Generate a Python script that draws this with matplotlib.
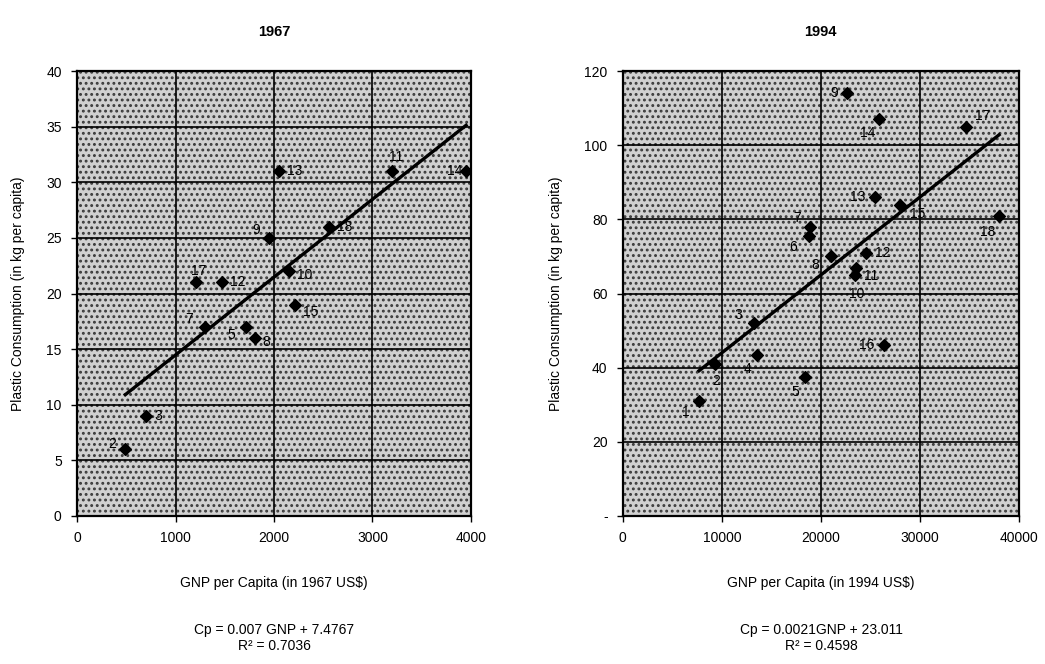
import numpy as np
import matplotlib.pyplot as plt
from matplotlib.patches import Rectangle

plt.rcParams['font.family'] = ['Liberation Sans', 'DejaVu Sans']
plt.rcParams['hatch.linewidth'] = 1.3

# 1967 data: country number, GNP per capita, plastic consumption
ids_67 = ['2', '3', '7', '5', '8', '17', '12', '10', '15', '9', '18', '13', '11', '14']
gnp_67 = [490, 700, 1300, 1720, 1810, 1210, 1470, 2150, 2210, 1950, 2560, 2050, 3200, 3950]
cp_67 = [6, 9, 17, 17, 16, 21, 21, 22, 19, 25, 26, 31, 31, 31]
slope_67, icpt_67 = 0.007, 7.4767

# 1994 data
ids_94 = ['1', '2', '3', '4', '5', '16', '12', '8', '10', '11', '7', '6',
          '13', '15', '18', '9', '14', '17']
gnp_94 = [7700, 9300, 13200, 13600, 18400, 26400, 24600, 21000, 23400, 23500,
          18900, 18800, 25500, 28000, 38000, 22600, 25900, 34700]
cp_94 = [31, 41, 52, 43.5, 37.5, 46, 71, 70, 65, 67, 78, 75.5,
         86, 84, 81, 114, 107, 105]
slope_94, icpt_94 = 0.0021, 23.011

# label offsets (points) for the number next to each diamond
off_67 = {'2': (-12, 4), '3': (6, 0), '7': (-14, 6), '5': (-14, -6), '8': (5, -3),
          '17': (-4, 8), '12': (6, 0), '10': (6, -3), '15': (6, -5), '9': (-12, 6),
          '18': (6, 0), '13': (6, 0), '11': (-2, 10), '14': (-14, 0)}
off_94 = {'1': (-12, -8), '2': (-2, -12), '3': (-14, 6), '4': (-10, -10),
          '5': (-10, -11), '16': (-18, 0), '12': (6, 0), '8': (-14, -6),
          '10': (-4, -14), '11': (6, -6), '7': (-12, 6), '6': (-14, -8),
          '13': (-18, 0), '15': (7, -7), '18': (-14, -12), '9': (-12, 0),
          '14': (-14, -10), '17': (6, 8)}

fig = plt.figure(figsize=(10.45, 6.64), dpi=100)
ax1 = fig.add_axes([0.0737, 0.2229, 0.377, 0.670])
ax2 = fig.add_axes([0.596, 0.2229, 0.379, 0.670])


def style(ax):
    ax.set_facecolor('#d0d0d0')
    # stippled plot area
    ax.add_patch(Rectangle((0, 0), 1, 1, transform=ax.transAxes, facecolor='none',
                           edgecolor='#3a3a3a', hatch='...', linewidth=0, zorder=0.5))
    ax.set_axisbelow(True)
    ax.grid(True, color='black', linewidth=1.2, zorder=1)
    for s in ax.spines.values():
        s.set_linewidth(1.6)
        s.set_color('black')
    ax.tick_params(direction='out', length=4, width=1, labelsize=10, pad=7)


def panel(ax, ids, gnp, cp, slope, icpt, offs):
    style(ax)
    xs = np.array([min(gnp), max(gnp)])
    ax.plot(xs, slope * xs + icpt, color='black', linewidth=2.4, zorder=3)
    ax.scatter(gnp, cp, marker='D', s=36, color='black', zorder=4)
    for i, g, c in zip(ids, gnp, cp):
        dx, dy = offs[i]
        ax.annotate(i, (g, c), xytext=(dx, dy), textcoords='offset points',
                    fontsize=10, ha='left', va='center', zorder=5)


panel(ax1, ids_67, gnp_67, cp_67, slope_67, icpt_67, off_67)
ax1.set_xlim(0, 4000)
ax1.set_ylim(0, 40)
ax1.set_xticks(range(0, 4001, 1000))
ax1.set_yticks(range(0, 41, 5))
ax1.set_title('1967', fontsize=10.5, fontweight='bold', pad=25)
ax1.set_xlabel('GNP per Capita (in 1967 US$)', fontsize=10, labelpad=22)
ax1.set_ylabel('Plastic Consumption (in kg per capita)', fontsize=10, labelpad=15)

panel(ax2, ids_94, gnp_94, cp_94, slope_94, icpt_94, off_94)
ax2.set_xlim(0, 40000)
ax2.set_ylim(0, 120)
ax2.set_xticks(range(0, 40001, 10000))
ax2.set_yticks(range(0, 121, 20))
ax2.set_yticklabels(['-'] + [str(v) for v in range(20, 121, 20)])
ax2.set_title('1994', fontsize=10.5, fontweight='bold', pad=25)
ax2.set_xlabel('GNP per Capita (in 1994 US$)', fontsize=10, labelpad=22)
ax2.set_ylabel('Plastic Consumption (in kg per capita)', fontsize=10, labelpad=15)

fig.text(0.2625, 0.039, 'Cp = 0.007 GNP + 7.4767\nR² = 0.7036', ha='center',
         va='center', fontsize=10, linespacing=1.25)
fig.text(0.786, 0.039, 'Cp = 0.0021GNP + 23.011\nR² = 0.4598', ha='center',
         va='center', fontsize=10, linespacing=1.25)

fig.savefig('out.png', dpi=100)
